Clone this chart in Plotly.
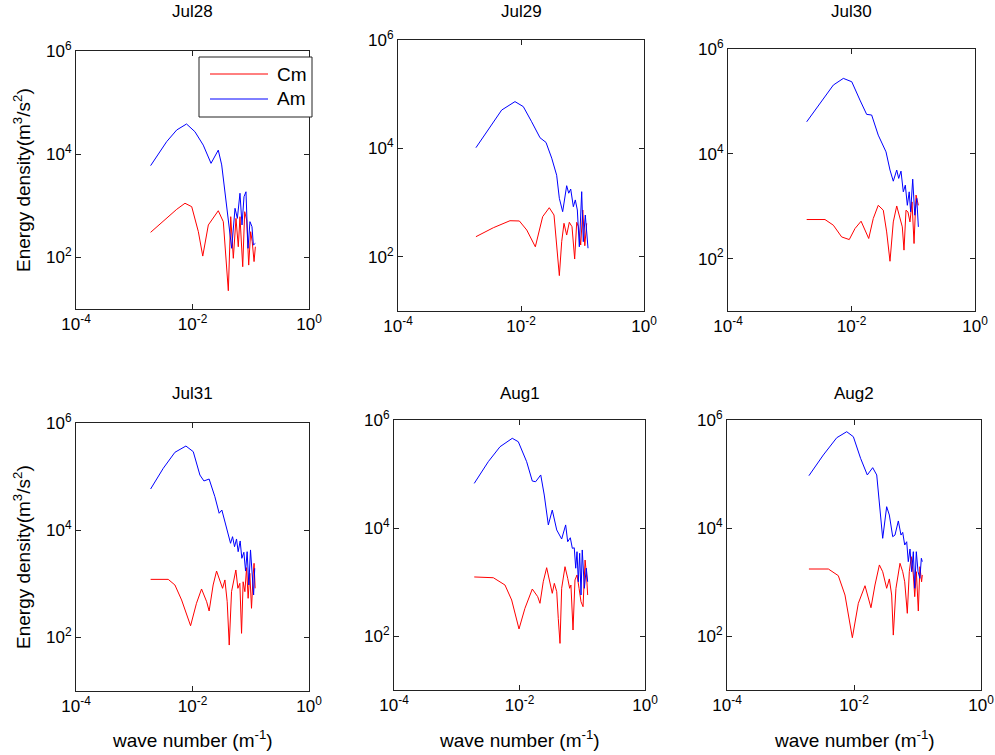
import plotly.graph_objects as go

# ---------------- data ----------------
titles = ["Jul28", "Jul29", "Jul30", "Jul31", "Aug1", "Aug2"]
series_names = ["Cm", "Am"]
x_tickvals = [1e-4, 1e-2, 1]
x_ticktext = ["10<sup>-4</sup>", "10<sup>-2</sup>", "10<sup>0</sup>"]
y_tickvals = [1e2, 1e4, 1e6]
y_ticktext = ["10<sup>2</sup>", "10<sup>4</sup>", "10<sup>6</sup>"]

# Jul28
k_jul28_am = [0.00191, 0.0036, 0.00536, 0.0079, 0.011, 0.0153, 0.0208, 0.0277, 0.0317, 0.0387, 0.0471,
              0.0537, 0.0589, 0.0653, 0.0708, 0.0766, 0.0828, 0.0897, 0.097, 0.105, 0.111, 0.12]
e_jul28_am = [6000, 17500, 29500, 38500, 27300, 15000, 6650, 12000, 6200, 1040, 150,
              894, 571, 1750, 425, 1500, 1870, 150, 492, 394, 174, 187]
k_jul28_cm = [0.00191, 0.0036, 0.00536, 0.00743, 0.0097, 0.0126, 0.015, 0.0187, 0.0277, 0.0338, 0.0376,
              0.0412, 0.0453, 0.0502, 0.0558, 0.0611, 0.0653, 0.0728, 0.0787, 0.0851, 0.0922, 0.0997,
              0.106, 0.114, 0.12]
e_jul28_cm = [306, 571, 855, 1120, 961, 315, 106, 425, 803, 492, 111,
              22.6, 615, 96, 571, 161, 615, 66, 769, 531, 71, 315,
              201, 83, 161]

# Jul29
k_jul29_am = [0.00185, 0.00313, 0.00485, 0.00798, 0.0109, 0.0149, 0.0204, 0.0255, 0.0316, 0.038, 0.042,
              0.0476, 0.0553, 0.0597, 0.0643, 0.071, 0.0764, 0.0824, 0.0888, 0.097, 0.103, 0.111, 0.123]
e_jul29_am = [10300, 25000, 51000, 73000, 59000, 31000, 15700, 12900, 6600, 3200, 1200,
              680, 2050, 1490, 1780, 840, 1120, 730, 153, 1590, 190, 590, 144]
k_jul29_cm = [0.00185, 0.00355, 0.00662, 0.0094, 0.0124, 0.0171, 0.0225, 0.0288, 0.0344, 0.038, 0.042,
              0.0459, 0.05, 0.0553, 0.061, 0.0675, 0.0746, 0.0805, 0.086, 0.0935, 0.101, 0.109, 0.117]
e_jul29_cm = [235, 344, 463, 458, 312, 153, 550, 805, 590, 190, 45,
              190, 415, 252, 433, 359, 91, 433, 359, 165, 730, 160, 415]

# Jul30
k_jul30_am = [0.00188, 0.00309, 0.00508, 0.00738, 0.0101, 0.0137, 0.0176, 0.0212, 0.0271, 0.0362, 0.042,
              0.0475, 0.054, 0.0581, 0.0633, 0.069, 0.0744, 0.0802, 0.086, 0.0908, 0.098, 0.106, 0.114, 0.121]
e_jul30_am = [40800, 92000, 205000, 275000, 237000, 106000, 56500, 55000, 22700, 10900, 4900,
              3000, 4900, 3390, 4670, 1880, 2520, 1040, 1880, 778, 3280, 673, 1410, 403]
k_jul30_cm = [0.00188, 0.00372, 0.00508, 0.00693, 0.0092, 0.0114, 0.0143, 0.019, 0.0225, 0.0271, 0.0327,
              0.0371, 0.042, 0.0475, 0.054, 0.061, 0.0665, 0.0708, 0.0763, 0.082, 0.0885, 0.0955,
              0.103, 0.111, 0.121]
e_jul30_cm = [557, 557, 434, 259, 231, 375, 517, 242, 582, 1040, 840,
              323, 89, 501, 1010, 582, 403, 145, 840, 778, 501, 1210,
              194, 1630, 1040]

# Jul31
k_jul31_am = [0.00191, 0.00315, 0.00499, 0.00771, 0.0103, 0.0134, 0.0157, 0.0193, 0.0242, 0.0287, 0.0319,
              0.0374, 0.045, 0.0487, 0.0527, 0.057, 0.0608, 0.0658, 0.0703, 0.0762, 0.0815, 0.0867,
              0.0927, 0.099, 0.106, 0.112, 0.117]
e_jul31_am = [58700, 143000, 284000, 372000, 292000, 107000, 83000, 90000, 42200, 20700, 23800,
              11600, 5700, 7570, 4920, 6860, 3970, 6300, 2990, 3870, 1730, 3970,
              950, 4280, 1090, 618, 1950]
k_jul31_cm = [0.00191, 0.00383, 0.00499, 0.0065, 0.00927, 0.0117, 0.0143, 0.0175, 0.0193, 0.0226, 0.0259,
              0.0295, 0.0328, 0.036, 0.0394, 0.0427, 0.0468, 0.0555, 0.0601, 0.065, 0.0695, 0.074,
              0.0793, 0.0848, 0.0902, 0.0964, 0.103, 0.11, 0.114, 0.119]
e_jul31_cm = [1210, 1210, 950, 499, 165, 433, 800, 463, 311, 950, 1730,
              1090, 824, 1180, 463, 72, 713, 1810, 824, 1020, 119, 1090,
              713, 2000, 536, 1570, 349, 1460, 2410, 824]

# Aug1
k_aug1_am = [0.0019, 0.00318, 0.00489, 0.00767, 0.00957, 0.013, 0.016, 0.0181, 0.0218, 0.0248, 0.0288,
             0.0333, 0.0392, 0.047, 0.0544, 0.0586, 0.0645, 0.0695, 0.0746, 0.0787, 0.0825, 0.0865,
             0.091, 0.0955, 0.1, 0.108, 0.116, 0.122]
e_aug1_am = [67000, 169000, 320000, 458000, 396000, 169000, 74000, 72000, 96000, 40800, 11400,
             21500, 9200, 6250, 11400, 5570, 6600, 4200, 4300, 1800, 3640, 1010,
             3400, 574, 3920, 764, 1800, 1010]
k_aug1_cm = [0.0019, 0.00383, 0.00587, 0.0075, 0.00982, 0.0122, 0.016, 0.0195, 0.0212, 0.0239, 0.0271,
             0.0306, 0.0333, 0.0359, 0.0392, 0.0415, 0.0442, 0.047, 0.0531, 0.0586, 0.063, 0.066,
             0.0713, 0.0766, 0.0825, 0.089, 0.0955, 0.103, 0.111, 0.117, 0.122]
e_aug1_cm = [1240, 1200, 880, 464, 135, 325, 741, 535, 403, 1010, 1840,
             1010, 617, 944, 662, 212, 73, 764, 1920, 1170, 764, 880,
             129, 1090, 1350, 764, 432, 349, 2550, 1350, 574]

# Aug2
k_aug2_am = [0.00195, 0.00329, 0.00535, 0.00768, 0.00977, 0.0127, 0.0162, 0.0197, 0.0228, 0.0251, 0.0283,
             0.0327, 0.036, 0.0407, 0.0442, 0.0499, 0.055, 0.0585, 0.0629, 0.0676, 0.0716, 0.0762,
             0.081, 0.086, 0.0904, 0.0958, 0.102, 0.109, 0.115, 0.119]
e_aug2_am = [93000, 225000, 470000, 607000, 490000, 195000, 96000, 131000, 96000, 30700, 6440,
             24800, 17400, 6900, 7400, 13500, 7400, 8300, 4840, 5570, 2380, 4080,
             1550, 3640, 764, 3640, 1550, 1170, 2750, 2380]
k_aug2_cm = [0.00195, 0.00395, 0.00566, 0.00721, 0.00942, 0.0117, 0.0149, 0.0185, 0.0214, 0.0251, 0.0283,
             0.0327, 0.036, 0.0392, 0.0416, 0.0458, 0.053, 0.0585, 0.0629, 0.0691, 0.0743, 0.0798,
             0.086, 0.0904, 0.096, 0.103, 0.109, 0.116, 0.119]
e_aug2_cm = [1740, 1740, 1310, 574, 93, 403, 853, 334, 880, 2070, 1550,
             764, 1140, 574, 104, 764, 2220, 1550, 1010, 263, 1550, 2940,
             1350, 535, 1550, 290, 1920, 1010, 1350]

panel_data = [
    (k_jul28_cm, e_jul28_cm, k_jul28_am, e_jul28_am),
    (k_jul29_cm, e_jul29_cm, k_jul29_am, e_jul29_am),
    (k_jul30_cm, e_jul30_cm, k_jul30_am, e_jul30_am),
    (k_jul31_cm, e_jul31_cm, k_jul31_am, e_jul31_am),
    (k_aug1_cm, e_aug1_cm, k_aug1_am, e_aug1_am),
    (k_aug2_cm, e_aug2_cm, k_aug2_am, e_aug2_am),
]

# ---------------- layout (pixel boxes of each axes) ----------------
W, H = 995, 755
boxes = [  # left, right, top, bottom in px
    (76, 309, 51, 309),
    (398, 644, 40, 311),
    (728, 975, 49, 311),
    (76, 309, 423, 691),
    (394, 645, 420, 690),
    (727, 981, 420, 690),
]
FONT = "Liberation Sans, Arial, Helvetica, sans-serif"
RED = "#ff0000"
BLUE = "#0000ff"


def px(xp):
    return xp / W


def py(yp):
    return 1 - yp / H


fig = go.Figure()
layout = {}
annotations = []
shapes = []

for i, (kc, ec, ka, ea) in enumerate(panel_data):
    n = i + 1
    xa = "x" if n == 1 else f"x{n}"
    ya = "y" if n == 1 else f"y{n}"
    fig.add_trace(go.Scatter(x=kc, y=ec, mode="lines", name=series_names[0],
                             line=dict(color=RED, width=1), xaxis=xa, yaxis=ya,
                             showlegend=False))
    fig.add_trace(go.Scatter(x=ka, y=ea, mode="lines", name=series_names[1],
                             line=dict(color=BLUE, width=1), xaxis=xa, yaxis=ya,
                             showlegend=False))
    l, r, t, b = boxes[i]
    common = dict(type="log", showline=True, mirror="ticks", linecolor="#222222",
                  linewidth=1, ticks="inside", ticklen=5, tickcolor="#222222",
                  showgrid=False, zeroline=False, automargin=False,
                  tickfont=dict(family=FONT, size=17, color="black"))
    layout["xaxis" if n == 1 else f"xaxis{n}"] = dict(
        common, range=[-4, 0], domain=[px(l), px(r)], anchor=ya,
        tickvals=x_tickvals, ticktext=x_ticktext)
    layout["yaxis" if n == 1 else f"yaxis{n}"] = dict(
        common, range=[1, 6], domain=[py(b), py(t)], anchor=xa,
        tickvals=y_tickvals, ticktext=y_ticktext)

    # subplot title
    title_y = 12 if i < 3 else 393
    annotations.append(dict(text=titles[i], x=px((l + r) / 2), y=py(title_y),
                            xref="paper", yref="paper", showarrow=False,
                            xanchor="center", yanchor="middle",
                            font=dict(family=FONT, size=17, color="black")))
    if i >= 3:
        annotations.append(dict(text="wave number (m<sup>-1</sup>)", x=px((l + r) / 2), y=py(739),
                                xref="paper", yref="paper", showarrow=False,
                                xanchor="center", yanchor="middle",
                                font=dict(family=FONT, size=19, color="black")))
    if i in (0, 3):
        annotations.append(dict(text="Energy density(m<sup>3</sup>/s<sup>2</sup>)",
                                x=px(22), y=py((t + b) / 2), textangle=-90,
                                xref="paper", yref="paper", showarrow=False,
                                xanchor="center", yanchor="middle",
                                font=dict(family=FONT, size=19, color="black")))

# legend drawn in the first panel
shapes.append(dict(type="rect", xref="paper", yref="paper",
                   x0=px(199), x1=px(312), y0=py(117), y1=py(57),
                   line=dict(color="#222222", width=1), fillcolor="white", layer="above"))
for name, color, yl in [(series_names[0], RED, 74), (series_names[1], BLUE, 99)]:
    shapes.append(dict(type="line", xref="paper", yref="paper",
                       x0=px(210), x1=px(268), y0=py(yl), y1=py(yl),
                       line=dict(color=color, width=1), layer="above"))
    annotations.append(dict(text=name, x=px(275), y=py(yl), xref="paper", yref="paper",
                            showarrow=False, xanchor="left", yanchor="middle",
                            font=dict(family=FONT, size=19, color="black")))

fig.update_layout(**layout)
fig.update_layout(width=W, height=H, margin=dict(l=0, r=0, t=0, b=0, autoexpand=False),
                  paper_bgcolor="white", plot_bgcolor="white",
                  annotations=annotations, shapes=shapes, showlegend=False,
                  hovermode=False,
                  font=dict(family=FONT, color="black"))

fig.write_html("out.html",
               config={"displayModeBar": False, "staticPlot": True},
               post_script="document.body.style.margin='0px';"
                           "document.body.style.padding='0px';"
                           "document.body.style.overflow='hidden';")
